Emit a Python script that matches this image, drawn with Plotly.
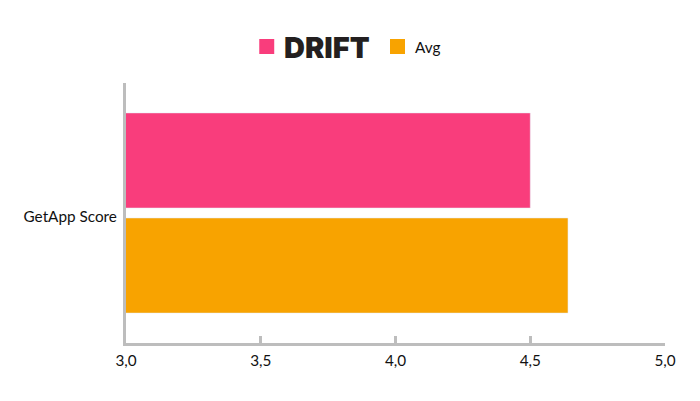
import plotly.graph_objects as go

categories = ["GetApp Score"]
driftValues = [4.5]
avgValues = [4.64]
tickValues = [3.0, 3.5, 4.0, 4.5, 5.0]
legendNames = ["DRIFT", "Avg"]

pink = "#F93D7C"
orange = "#F8A300"
axisGrey = "#BDBDBD"

# plot area in figure pixels, the page adds its own body margin on top of this
plotL, plotT, plotW, plotH = 117.5, 75, 540, 260

def px(x):
    return (x - plotL) / plotW

def py(y):
    return 1 - (y - plotT) / plotH

fig = go.Figure()
fig.add_trace(go.Bar(y=categories, x=driftValues, orientation="h", marker_color=pink, name=legendNames[0]))
fig.add_trace(go.Bar(y=categories, x=avgValues, orientation="h", marker_color=orange, name=legendNames[1]))

fig.update_layout(
    width=692, height=393,
    margin=dict(l=plotL, r=692 - plotL - plotW, t=plotT, b=393 - plotT - plotH),
    paper_bgcolor="white", plot_bgcolor="white",
    font=dict(family="Lato", size=15.3, color="#111111"),
    separators=", ",
    barmode="group", bargap=0.192, bargroupgap=0.095,
    showlegend=False,
)
fig.update_xaxes(range=[3, 5], tickvals=tickValues, tickformat=".1f", showgrid=False, zeroline=False,
    showline=True, linecolor=axisGrey, linewidth=3, ticks="inside", ticklen=7, tickwidth=3, tickcolor=axisGrey,
    ticklabelstandoff=2)
fig.update_yaxes(autorange="reversed", showgrid=False, zeroline=False, showline=True,
    linecolor=axisGrey, linewidth=3, ticks="", ticklabelstandoff=3, ticklabelshift=-4)

# legend drawn by hand, the swatches are bigger than plotly's own legend allows
fig.add_shape(type="rect", xref="paper", yref="paper", x0=px(251), x1=px(266), y0=py(46), y1=py(31),
    fillcolor=pink, line_width=0)
fig.add_shape(type="rect", xref="paper", yref="paper", x0=px(382), x1=px(397), y0=py(46), y1=py(31),
    fillcolor=orange, line_width=0)
fig.add_annotation(xref="paper", yref="paper", x=px(276), y=py(39), xanchor="left", yanchor="middle",
    text=legendNames[0], showarrow=False, xshift=-2, font=dict(family="Inter", size=29, weight=900, color="#231F20"))
fig.add_annotation(xref="paper", yref="paper", x=px(407), y=py(39), xanchor="left", yanchor="middle",
    text=legendNames[1], showarrow=False, xshift=-2, font=dict(family="Lato", size=15.3, color="#111111"))

fig.write_html("out.html")
